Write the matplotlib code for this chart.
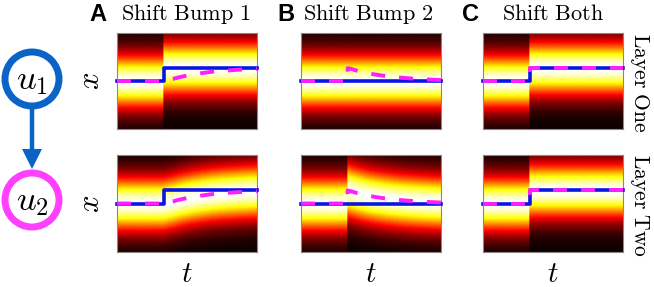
import numpy as np
import matplotlib
matplotlib.use("Agg")
import matplotlib.pyplot as plt
from matplotlib.patches import Circle

plt.rcParams['mathtext.fontset'] = 'cm'

# time samples (the step happens at t=1, hence the repeated value)
t_pts = [0, 1, 1, 1.1, 1.2, 1.3, 1.4, 1.5, 1.6, 1.8, 2.0, 2.2, 2.4, 2.6, 2.8, 3.0]

# bump centres, x in [-1, 1]
l1_A = [0, 0, 0.27, 0.27, 0.27, 0.27, 0.27, 0.27, 0.27, 0.27, 0.27, 0.27, 0.27, 0.27, 0.27, 0.27]
l2_A = [0, 0, 0, 0.024, 0.043, 0.070, 0.092, 0.113, 0.130, 0.162, 0.189, 0.208, 0.221, 0.235, 0.243, 0.254]
l1_B = [0, 0, 0, 0, 0, 0, 0, 0, 0, 0, 0, 0, 0, 0, 0, 0]
l2_B = [0, 0, 0.27, 0.245, 0.215, 0.190, 0.168, 0.150, 0.133, 0.105, 0.083, 0.065, 0.050, 0.038, 0.028, 0.020]
l1_C = [0, 0, 0.27, 0.27, 0.27, 0.27, 0.27, 0.27, 0.27, 0.27, 0.27, 0.27, 0.27, 0.27, 0.27, 0.27]
l2_C = [0, 0, 0.27, 0.27, 0.27, 0.27, 0.27, 0.27, 0.27, 0.27, 0.27, 0.27, 0.27, 0.27, 0.27, 0.27]

letters = ["A", "B", "C"]
titles = ["Shift Bump 1", "Shift Bump 2", "Shift Both"]
row_names = ["Layer One", "Layer Two"]

panels = [(l1_A, l2_A), (l1_B, l2_B), (l1_C, l2_C)]

bump_width = 0.39
ring_blue = "#0a64c8"
ring_pink = "#ff40ff"
line_blue = "#0a14e6"
line_pink = "#ff1eff"

W, H = 654, 287
fig = plt.figure(figsize=(W / 100, H / 100), dpi=100)

# overlay in pixel coordinates for the graph and the labels
bg = fig.add_axes([0, 0, 1, 1])
bg.set_xlim(0, W)
bg.set_ylim(H, 0)
bg.axis("off")

col_left = [117, 301, 483]
col_w = 140
row_top = [33, 155]
row_h = [96, 97]

x_grid = np.linspace(-1, 1, 121)
T, X = np.meshgrid(np.array(t_pts), x_grid)

for j, (c1, c2) in enumerate(panels):
    for i in range(2):
        ax = fig.add_axes([col_left[j] / W, 1 - (row_top[i] + row_h[i]) / H,
                           col_w / W, row_h[i] / H])
        centres = np.array(c1 if i == 0 else c2)
        Z = np.exp(-(X - centres[None, :]) ** 2 / (2 * bump_width ** 2))
        ax.pcolormesh(T, X, Z, shading="gouraud", cmap="hot", vmin=0, vmax=1,
                      rasterized=True)
        ax.plot(t_pts, c1, color=line_blue, lw=2.6, clip_on=False, zorder=3)
        ax.plot(t_pts, c2, color=line_pink, lw=2.8, dashes=(3.6, 3.6),
                clip_on=False, zorder=4)
        ax.set_xlim(0, 3)
        ax.set_ylim(-1, 1)
        ax.set_xticks([])
        ax.set_yticks([])
        for s in ax.spines.values():
            s.set_color("#888888")
            s.set_linewidth(0.8)

# panel titles
letter_x = [89, 277, 462]
title_x = [121, 303, 502]
for j in range(3):
    bg.text(letter_x[j], 21, letters[j], fontsize=17, fontweight="bold",
            family="Liberation Sans", ha="left", va="baseline")
    bg.text(title_x[j], 20.5, r"$\mathrm{" + titles[j].replace(" ", r"\ ") + "}$",
            fontsize=16, ha="left", va="baseline")

# axis labels
for i in range(2):
    yc = row_top[i] + row_h[i] / 2
    bg.text(90.5, yc, r"$x$", fontsize=22, rotation=90, ha="center", va="center")
    bg.text(640, yc + 2, r"$\mathrm{" + row_names[i].replace(" ", r"\ ") + "}$",
            fontsize=15.5, rotation=270, ha="center", va="center")
for j in range(3):
    bg.text(col_left[j] + col_w / 2, 274, r"$t$", fontsize=21, ha="center", va="center")

# two-node graph
bg.add_patch(Circle((32, 79), 27, fill=False, ec=ring_blue, lw=5))
bg.add_patch(Circle((32, 200), 27, fill=False, ec=ring_pink, lw=5))
bg.arrow(32, 108, 0, 61, width=4.5, head_width=20, head_length=20,
         length_includes_head=True, color=ring_blue, lw=0)
bg.text(32, 80, r"$u_1$", fontsize=25, ha="center", va="center")
bg.text(32, 201, r"$u_2$", fontsize=25, ha="center", va="center")

fig.savefig("out.png", dpi=100)
